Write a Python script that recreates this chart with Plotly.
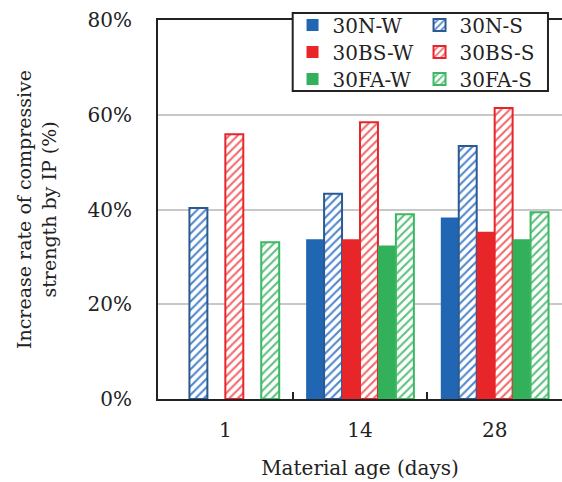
import plotly.graph_objects as go

categories = ["1", "14", "28"]
series_names = ["30N-W", "30N-S", "30BS-W", "30BS-S", "30FA-W", "30FA-S"]
n_w = [None, 0.337, 0.383]
n_s = [0.403, 0.433, 0.534]
bs_w = [None, 0.337, 0.353]
bs_s = [0.559, 0.584, 0.614]
fa_w = [None, 0.324, 0.337]
fa_s = [0.331, 0.390, 0.394]
values = [n_w, n_s, bs_w, bs_s, fa_w, fa_s]

solid_colors = ["#2166b3", None, "#e8262a", None, "#33b15a", None]
line_colors = ["#2166b3", "#2b5a92", "#e8262a", "#e8262a", "#33b15a", "#3cb862"]
hatch_fg = [None, "#4f86cc", None, "#f06a6d", None, "#5cc27e"]
legend_rows = ["legend", "legend", "legend2", "legend2", "legend3", "legend3"]

FONT = "DejaVu Serif"
fig = go.Figure()
for i, name in enumerate(series_names):
    hatched = name.endswith("-S")
    if hatched:
        marker = dict(
            color="white",
            line=dict(color=line_colors[i], width=2),
            pattern=dict(shape="/", fgcolor=hatch_fg[i], bgcolor="white",
                         size=6, solidity=0.35, fillmode="replace"),
        )
    else:
        marker = dict(color=solid_colors[i], line=dict(width=0))
    fig.add_trace(go.Bar(x=categories, y=values[i], name=name, marker=marker,
                         legend=legend_rows[i]))

leg_common = dict(
    orientation="h", yanchor="middle", xanchor="left", x=0.333,
    bgcolor="rgba(0,0,0,0)", borderwidth=0,
    font=dict(family=FONT, size=20), tracegroupgap=0,
    entrywidth=82, entrywidthmode="pixels",
)
fig.update_layout(
    width=562, height=482,
    margin=dict(l=158, r=0, t=20, b=83, autoexpand=False),
    paper_bgcolor="white", plot_bgcolor="white",
    barmode="group", bargap=0.2, bargroupgap=0,
    font=dict(family=FONT, size=19, color="#222"),
    legend=dict(y=0.9868, **leg_common),
    legend2=dict(y=0.9156, **leg_common),
    legend3=dict(y=0.8443, **leg_common),
    showlegend=True,
    shapes=[dict(type="rect", xref="paper", yref="paper",
                 x0=0.3334, x1=0.9653, y0=0.8127, y1=1.0185,
                 line=dict(color="#222", width=2), fillcolor="white", layer="above")],
)
fig.update_xaxes(
    type="category", range=[-0.5, 2.5],
    showline=True, linecolor="#222", linewidth=2, mirror=True,
    ticks="inside", tickson="boundaries", ticklen=7, tickwidth=2, tickcolor="#222",
    tickfont=dict(family=FONT, size=20),
    ticklabelstandoff=12,
    title=dict(text="Material age (days)", font=dict(family=FONT, size=20), standoff=20),
    showgrid=False,
)
fig.update_yaxes(
    range=[0, 0.8], tickvals=[0, 0.2, 0.4, 0.6, 0.8],
    ticktext=["0%", "20%", "40%", "60%", "80%"],
    showline=True, linecolor="#222", linewidth=2, ticks="",
    showgrid=True, gridcolor="#c8c8c8", gridwidth=2,
    zeroline=False,
    ticklabelstandoff=20,
    tickfont=dict(family=FONT, size=20),
    title=dict(text="Increase rate of compressive<br>strength by IP (%)",
               font=dict(family=FONT, size=19), standoff=26),
)

fig.write_html("out.html")
